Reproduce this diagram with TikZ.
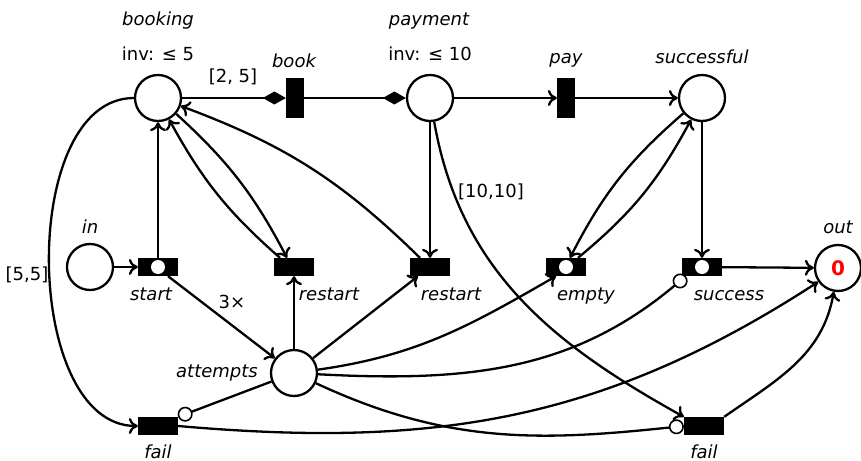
\documentclass[tikz,border=0pt]{standalone}
\usepackage{fontspec}
\setmainfont{DejaVu Sans}
\usetikzlibrary{arrows.meta}
\begin{document}
\begin{tikzpicture}[x=0.5pt,y=0.5pt,line width=1.15pt,
  font=\fontsize{9}{11}\selectfont,
  place/.style={circle,draw,fill=white,minimum size=23pt,inner sep=0pt},
  htrans/.style={draw,fill=black,inner sep=0pt,minimum width=19pt,minimum height=8pt},
  vtrans/.style={draw,fill=black,inner sep=0pt,minimum width=8pt,minimum height=19pt},
  hole/.style={circle,fill=white,inner sep=0pt,minimum size=7pt},
  lbl/.style={anchor=base,font=\fontsize{9}{11}\selectfont\itshape},
  txt/.style={anchor=base},
  flow/.style={-{To[length=4.5pt,width=8pt]}},
  diamarc/.style={-{Diamond[length=11.5pt,width=6.5pt]}},
  inhib/.style={-{Circle[fill=white,length=7.5pt,line width=0.8pt]}}
]
\useasboundingbox (0,0) rectangle (861,-460);

% places
\node[place] (booking) at (158,-98) {};
\node[place] (payment) at (430,-98) {};
\node[place] (successful) at (702,-98) {};
\node[place] (in) at (90,-267) {};
\node[place] (attempts) at (294,-373) {};
\node[place,text=red,font=\fontsize{10}{12}\selectfont\bfseries] (out) at (838,-268) {0};

% transitions
\node[vtrans] (book) at (295,-98) {};
\node[vtrans] (pay) at (566,-98) {};
\node[htrans] (start) at (158,-267) {};
\node[htrans] (restartA) at (294,-267) {};
\node[htrans] (restartB) at (430,-267) {};
\node[htrans] (empty) at (566,-267) {};
\node[htrans] (success) at (702,-267) {};
\node[htrans] (failA) at (158,-426) {};
\node[htrans] (failB) at (704,-426) {};

% main line
\draw[diamarc] (booking) -- (book);
\draw[diamarc] (book) -- (payment);
\draw[flow] (payment) -- (pay);
\draw[flow] (pay) -- (successful);

% start and restarts
\draw[flow] (in) -- (start);
\draw[flow] (start.north) -- (booking);
\draw[flow] ([xshift=5pt]start.south) -- (attempts);
\draw[flow] (booking) to[bend left=10] ([xshift=-3.5pt]restartA.north);
\draw[flow] ([xshift=-7pt]restartA.north) to[bend left=10] (booking);
\draw[flow] (attempts) -- (restartA.south);
\draw[flow] ([xshift=-5pt]restartB.north) to[bend right=12] (booking);
\draw[flow] (payment) -- (restartB.north);
\draw[flow] (attempts) -- ([xshift=-6pt]restartB.south);

% success side
\draw[flow] (successful) to[bend right=11] ([xshift=2pt]empty.north);
\draw[flow] ([xshift=6pt]empty.north) to[bend right=11] (successful);
\draw[flow] (attempts) to[out=8,in=-150] ([xshift=-5pt]empty.south);
\draw[flow] (successful) -- (success.north);
\draw[inhib] (attempts) to[out=-3,in=-140] ([xshift=2pt]success.south west);
\draw[flow] (success) -- (out);

% failures
\draw[flow] (booking.west) to[out=180,in=180,looseness=0.9] (failA.west);
\draw[inhib] (attempts) -- (failA.north east);
\draw[flow] (failA.east) to[out=-5,in=213] (out.215);
\draw[flow] (payment.-80) to[out=-80,in=151] (failB.north west);
\draw[inhib] (attempts.-25) to[out=-25,in=186] (failB.west);
\draw[flow] (failB.north east) to[out=35,in=-100] (out.-100);

% tokens drawn inside transitions
\node[hole] (holeStart) at (start) {};
\node[hole] (holeEmpty) at (empty) {};
\node[hole] (holeSuccess) at (success) {};

% labels
\node[lbl] (tBooking) at (158,-26) {booking};
\node[txt] (tInvA) at (158,-61) {inv: ≤ 5};
\node[txt] (tBookInt) at (233,-83) {[2, 5]};
\node[lbl] (tBook) at (294,-68) {book};
\node[lbl] (tPayment) at (429,-26) {payment};
\node[txt] (tInvB) at (430,-61) {inv: ≤ 10};
\node[lbl] (tPay) at (566,-64) {pay};
\node[lbl] (tSuccessful) at (702,-64) {successful};
\node[lbl] (tIn) at (90,-233) {in};
\node[lbl] (tOut) at (838,-233) {out};
\node[txt] (tFailInt) at (27,-280) {[5,5]};
\node[lbl] (tStart) at (151,-300) {start};
\node[txt] (tTimes) at (232,-308) {3×};
\node[lbl] (tRestartA) at (329,-300) {restart};
\node[lbl] (tRestartB) at (451,-300) {restart};
\node[lbl] (tEmpty) at (586,-300) {empty};
\node[lbl] (tSuccess) at (729,-300) {success};
\node[lbl] (tAttempts) at (217,-377) {attempts};
\node[lbl] (tFailA) at (158,-458) {fail};
\node[lbl] (tFailB) at (704,-458) {fail};
\node[txt] (tPayInt) at (491,-197) {[10,10]};
\end{tikzpicture}
\end{document}
